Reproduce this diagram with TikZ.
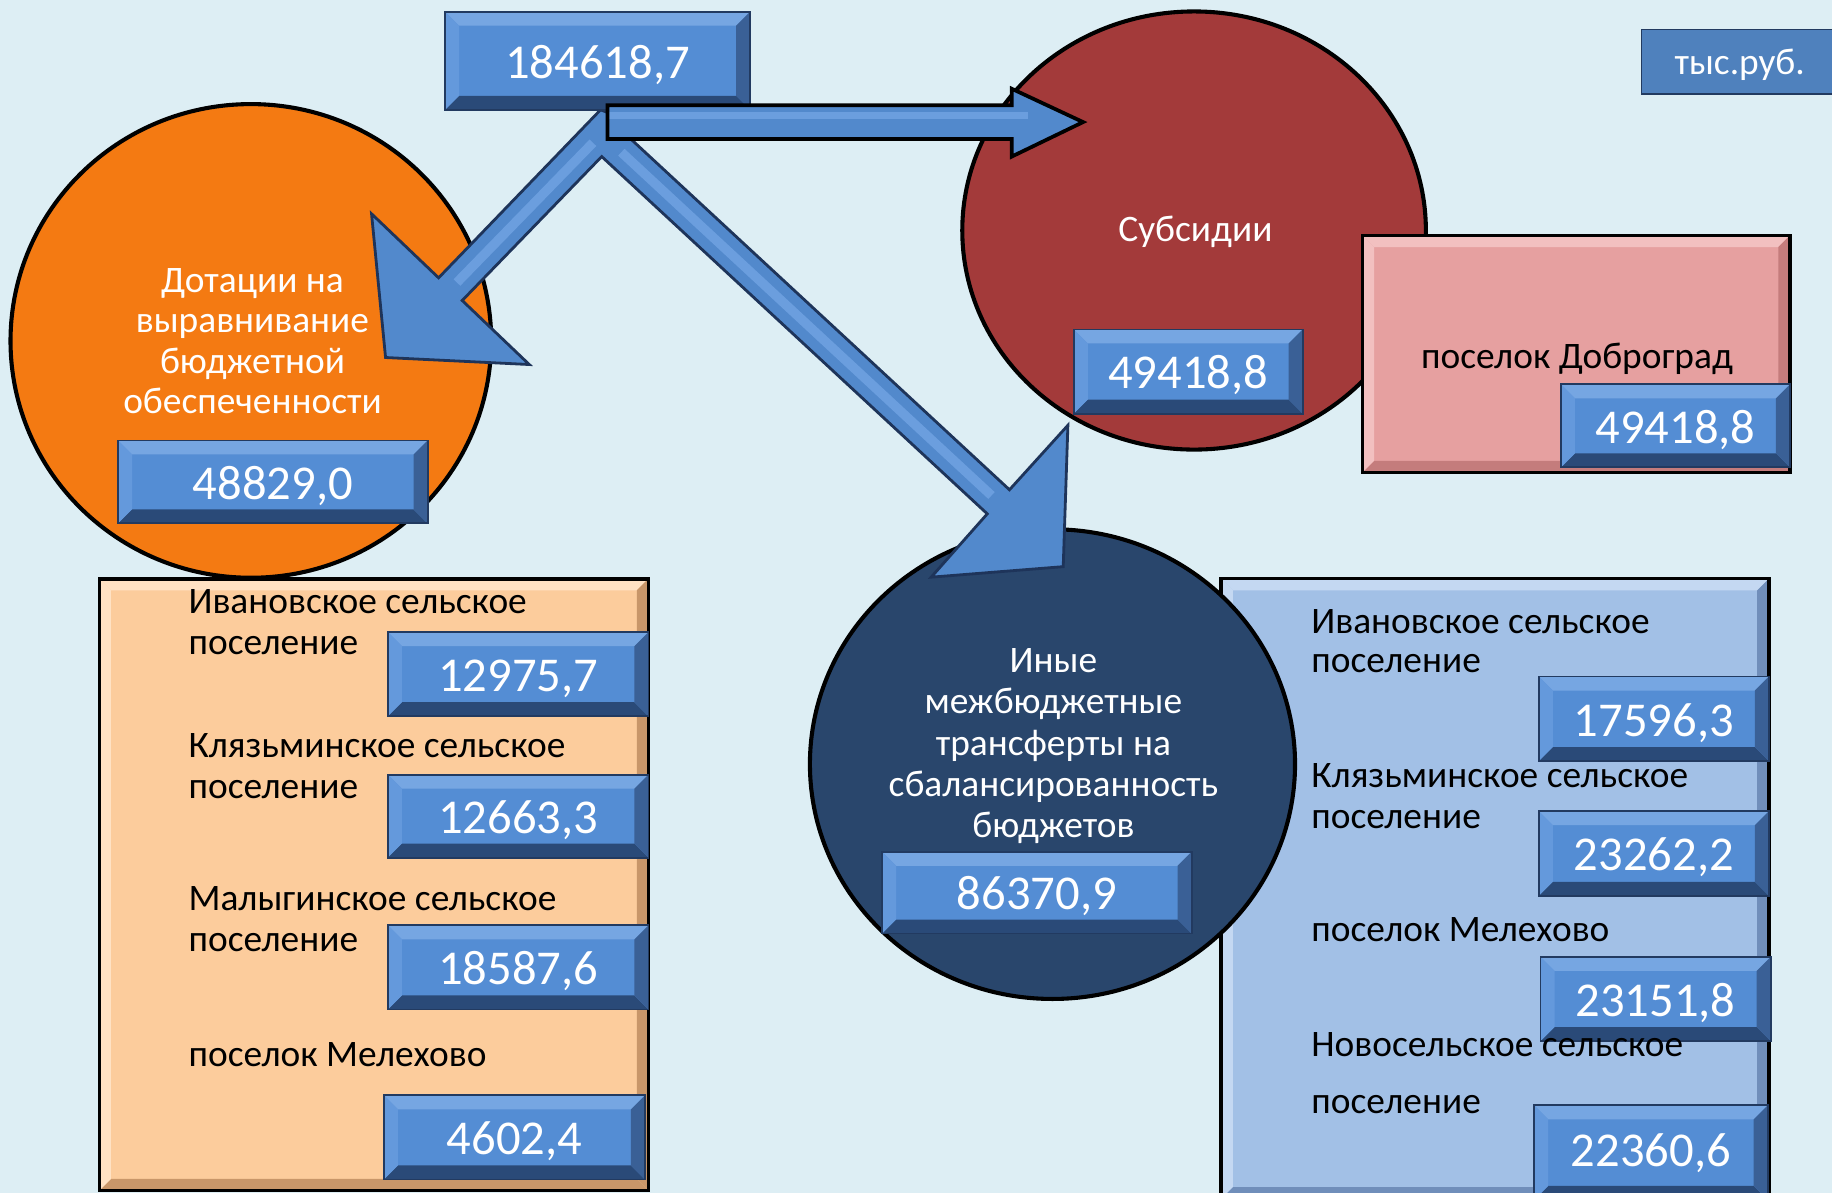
\documentclass[tikz,border=0pt]{standalone}
\usepackage{fontspec}
\setmainfont{Carlito}
\usetikzlibrary{shapes.geometric}
\definecolor{bg}{RGB}{221,238,244}
\definecolor{vblue}{RGB}{84,141,212}
\definecolor{vtop}{RGB}{118,166,226}
\definecolor{vleft}{RGB}{100,153,220}
\definecolor{vbot}{RGB}{42,74,120}
\definecolor{vright}{RGB}{58,96,150}
\definecolor{vline}{RGB}{34,58,96}
\definecolor{orng}{RGB}{244,122,18}
\definecolor{redc}{RGB}{163,58,58}
\definecolor{navyc}{RGB}{41,70,108}
\definecolor{pinkb}{RGB}{230,160,160}
\definecolor{pinkt}{RGB}{242,192,192}
\definecolor{pinkr}{RGB}{196,124,124}
\definecolor{peach}{RGB}{252,204,156}
\definecolor{peacht}{RGB}{255,226,196}
\definecolor{peachr}{RGB}{200,150,105}
\definecolor{lblue}{RGB}{162,192,230}
\definecolor{lbluet}{RGB}{196,216,242}
\definecolor{lbluer}{RGB}{112,142,186}
\definecolor{arr}{RGB}{82,137,204}
\definecolor{arrline}{RGB}{30,52,90}
\definecolor{arrhi}{RGB}{118,168,230}
\definecolor{unitbox}{RGB}{79,129,189}
\begin{document}
\begin{tikzpicture}[x=0.5pt,y=-0.5pt,
  bev/.style n args={5}{path picture={
    \fill[#1] (path picture bounding box.north west) -- (path picture bounding box.north east)
      -- ([xshift=-#5,yshift=-#5]path picture bounding box.north east)
      -- ([xshift=#5,yshift=-#5]path picture bounding box.north west) -- cycle;
    \fill[#2] (path picture bounding box.south west) -- (path picture bounding box.south east)
      -- ([xshift=-#5,yshift=#5]path picture bounding box.south east)
      -- ([xshift=#5,yshift=#5]path picture bounding box.south west) -- cycle;
    \fill[#3] (path picture bounding box.north east) -- (path picture bounding box.south east)
      -- ([xshift=-#5,yshift=#5]path picture bounding box.south east)
      -- ([xshift=-#5,yshift=-#5]path picture bounding box.north east) -- cycle;
    \fill[#4] (path picture bounding box.north west) -- (path picture bounding box.south west)
      -- ([xshift=#5,yshift=#5]path picture bounding box.south west)
      -- ([xshift=#5,yshift=-#5]path picture bounding box.north west) -- cycle;
  }},
  valbox/.style={draw=vline, line width=0.8pt, fill=vblue, text=white,
    font=\fontsize{20.8}{25}\selectfont, inner sep=0pt, text height=14.8pt, text depth=0pt,
    bev={vtop}{vbot}{vright}{vleft}{6pt}},
  lbl/.style={font=\fontsize{16}{18}\selectfont, inner sep=0pt, text=black},
  clbl/.style={lbl, text=white, anchor=base},
  circ/.style={ellipse, draw=black, line width=1.75pt, inner sep=0pt},
  cont/.style={draw=black, line width=1.5pt, inner sep=0pt},
  arrowshape/.style={fill=arr, draw=arrline, line width=1.2pt, line join=miter},
  hilite/.style={draw=arrhi, line width=4pt, opacity=0.7}
]
\useasboundingbox (0,0) rectangle (1568,1021);
\clip (0,0) rectangle (1568,1021);
\fill[bg] (0,0) rectangle (1568,1021);

% containers
\node[cont, fill=peach, minimum width=235pt, minimum height=261.85pt,
  bev={peacht}{peachr}{peachr}{peacht}{5pt}] (leftbox) at (320,757.2) {};
\node[cont, fill=lblue, minimum width=234.4pt, minimum height=265.35pt,
  bev={lbluet}{lbluer}{lbluer}{lbluet}{5pt}] (rightbox) at (1279.6,760.65) {};

% circles
\node[circ, fill=orng, minimum width=205.7pt, minimum height=202.7pt] (dot) at (214.7,291.8) {};
\node[circ, fill=redc, minimum width=198.4pt, minimum height=187.5pt] (sub) at (1022,197.3) {};
\node[circ, fill=navyc, minimum width=207.6pt, minimum height=201pt] (oth) at (900.8,654) {};

% pink box
\node[cont, fill=pinkb, minimum width=183pt, minimum height=101.5pt,
  bev={pinkt}{pinkr}{pinkr}{pinkt}{5pt}] (pinkbox) at (1349,303) {};

% V arrow (two diagonal block arrows)
\coordinate (vA) at (514,94);
\coordinate (vPo) at (375.4,237.8);
\coordinate (vB1) at (318,183);
\coordinate (vT2) at (330,306);
\coordinate (vB2) at (453,312);
\coordinate (vPi) at (395.6,257.2);
\coordinate (vI) at (515,134);
\coordinate (vQi) at (845,439.8);
\coordinate (vB3b) at (797,494);
\coordinate (vT3) at (910,485);
\coordinate (vB3a) at (914,364);
\coordinate (vQo) at (864,419.2);
\coordinate (vR) at (541,120);
\coordinate (vR2) at (530,100);
\begin{scope}
  \clip (vA) -- (vPo) -- (vB1) -- (vT2) -- (vB2) -- (vPi) -- (vI) -- (vQi) -- (vB3b)
    -- (vT3) -- (vB3a) -- (vQo) -- (vR) -- (vR2) -- cycle;
  \fill[arr] (0,0) rectangle (1000,600);
  \coordinate (s2a) at (507.5,122.2);
  \coordinate (s2b) at (391.1,241.8);
  \coordinate (s3a) at (531.8,130.3);
  \coordinate (s3b) at (848.6,424.1);
  \draw[hilite] (s2a) -- (s2b);
  \draw[hilite] (s3a) -- (s3b);
\end{scope}
\draw[arrowshape, fill=none] (vA) -- (vPo) -- (vB1) -- (vT2) -- (vB2) -- (vPi) -- (vI) -- (vQi) -- (vB3b)
    -- (vT3) -- (vB3a) -- (vQo) -- (vR) -- (vR2) -- cycle;

% top value box
\node[valbox, minimum width=130.5pt, minimum height=42pt] (total) at (511.5,52) {184618,7};

% horizontal arrow
\coordinate (h1) at (520,90);
\coordinate (h2) at (866,90);
\coordinate (h3) at (866,76);
\coordinate (h4) at (927,104.5);
\coordinate (h5) at (866,134);
\coordinate (h6) at (866,119);
\coordinate (h7) at (520,119);
\begin{scope}
  \clip (h1) -- (h2) -- (h3) -- (h4) -- (h5) -- (h6) -- (h7) -- cycle;
  \fill[arr] (500,60) rectangle (940,140);
  \coordinate (hs1) at (520,99);
  \coordinate (hs2) at (880,99);
  \draw[hilite, line width=3pt] (hs1) -- (hs2);
\end{scope}
\draw[draw=black, line width=1.6pt, line join=miter] (h1) -- (h2) -- (h3) -- (h4) -- (h5) -- (h6) -- (h7) -- cycle;

% units box
\node[draw=vline, line width=0.6pt, fill=unitbox, minimum width=85pt, minimum height=27.4pt,
  inner sep=0pt] (unitsbg) at (1490,52.9) {};
\node[lbl, text=white, text height=11.2pt, text depth=0pt] (units) at (1489,52.9) {тыс.руб.};

% circle texts
\foreach \t [count=\i] in {Дотации на,выравнивание,бюджетной,обеспеченности}
  \node[clbl] (dotl\i) at (216.1,{250.5+34.4*(\i-1)}) {\t};
\node[clbl] (subl) at (1023.1,206.3) {Субсидии};
\foreach \t [count=\i] in {Иные,межбюджетные,трансферты на,сбалансированность,бюджетов}
  \node[clbl] (othl\i) at (901.6,{576+35.1*(\i-1)}) {\t};

% circle values
\node[valbox, minimum width=132.5pt, minimum height=35.5pt] (dotv) at (233.5,412.5) {48829,0};
\node[valbox, minimum width=98pt, minimum height=36pt] (subv) at (1017,318) {49418,8};
\node[valbox, minimum width=132.5pt, minimum height=35pt] (othv) at (887.5,764) {86370,9};

% pink box content
\node[lbl, anchor=base west] (dobl) at (1216,315) {поселок Доброград};
\node[valbox, minimum width=98pt, minimum height=35.5pt] (dobv) at (1434,364.5) {49418,8};

% left list
\node[lbl, anchor=base west] (la1) at (161,525.2) {Ивановское сельское};
\node[lbl, anchor=base west] (la2) at (161,560.3) {поселение};
\node[valbox, minimum width=111.5pt, minimum height=36pt] (lav) at (443.5,577) {12975,7};
\node[lbl, anchor=base west] (lb1) at (161,648) {Клязьминское сельское};
\node[lbl, anchor=base west] (lb2) at (161,683.1) {поселение};
\node[valbox, minimum width=111.5pt, minimum height=35.5pt] (lbv) at (443.5,698.5) {12663,3};
\node[lbl, anchor=base west] (lc1) at (161,779.6) {Малыгинское сельское};
\node[lbl, anchor=base west] (lc2) at (161,814.7) {поселение};
\node[valbox, minimum width=111.5pt, minimum height=36pt] (lcv) at (443.5,828) {18587,6};
\node[lbl, anchor=base west] (ld1) at (161,913) {поселок Мелехово};
\node[valbox, minimum width=111.7pt, minimum height=36pt] (ldv) at (440.3,973.5) {4602,4};

% right list
\node[lbl, anchor=base west] (ra1) at (1122,542.6) {Ивановское сельское};
\node[lbl, anchor=base west] (ra2) at (1122,576) {поселение};
\node[valbox, minimum width=98.5pt, minimum height=36.2pt] (rav) at (1415.5,615.2) {17596,3};
\node[lbl, anchor=base west] (rb1) at (1122,674.3) {Клязьминское сельское};
\node[lbl, anchor=base west] (rb2) at (1122,709.4) {поселение};
\node[valbox, minimum width=98.5pt, minimum height=36.2pt] (rbv) at (1415.5,730.5) {23262,2};
\node[lbl, anchor=base west] (rc1) at (1122,805.9) {поселок Мелехово};
\node[valbox, minimum width=98.5pt, minimum height=36pt] (rcv) at (1417,855) {23151,8};
\node[lbl, anchor=base west] (rd1) at (1122,904.2) {Новосельское сельское};
\node[lbl, anchor=base west] (rd2) at (1122,953.3) {поселение};
\node[valbox, minimum width=100pt, minimum height=40.5pt, text height=12pt] (rdv) at (1413,986.5) {22360,6};
\end{tikzpicture}
\end{document}
